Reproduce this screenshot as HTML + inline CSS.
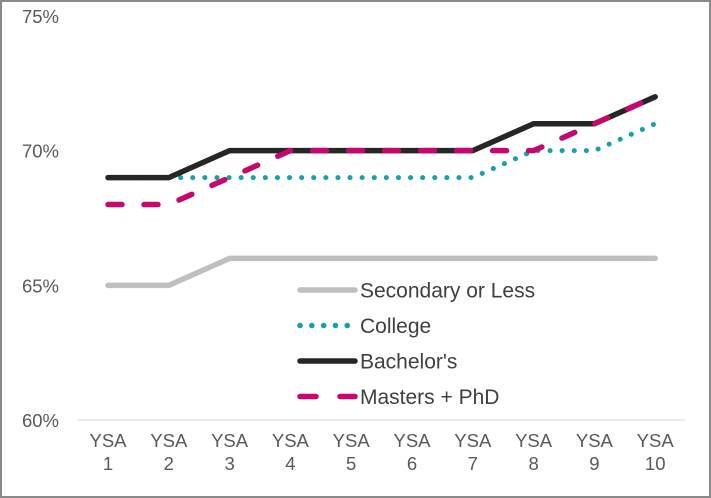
<!DOCTYPE html>
<html><head><meta charset="utf-8"><style>
body{margin:0;background:#fff;}
svg{display:block;font-family:"Liberation Sans",sans-serif;}
</style></head><body>
<svg id="c" width="711" height="498">
<rect x="1" y="1" width="709" height="496" fill="#fff" stroke="#8a8a8a" stroke-width="2"/>
</svg>
<script>
const categories=["YSA 1","YSA 2","YSA 3","YSA 4","YSA 5","YSA 6","YSA 7","YSA 8","YSA 9","YSA 10"];
const secondary=[65,65,66,66,66,66,66,66,66,66];
const college=[69,69,69,69,69,69,69,70,70,71];
const bachelors=[69,69,70,70,70,70,70,71,71,72];
const masters=[68,68,69,70,70,70,70,70,71,72];
const yTicks=[60,65,70,75];
const ns="http://www.w3.org/2000/svg";
const svg=document.getElementById('c');
const x0=77.6,x1=685.6,step=(x1-x0)/categories.length;
const xs=i=>x0+step*(i+0.5);
const ys=v=>420-(v-60)*(404/15);
function mk(t,a,p){const e=document.createElementNS(ns,t);for(const k in a)e.setAttribute(k,a[k]);(p||svg).appendChild(e);return e;}
yTicks.forEach(v=>{const t=mk('text',{x:59,y:ys(v)+7,'text-anchor':'end','font-size':18.5,fill:'#595959'});t.textContent=v+'%';

});
const ax=mk('line',{x1:x0,x2:x1,y1:420,y2:420,stroke:'#d9d9d9','stroke-width':1});


categories.forEach((c,i)=>{const p=c.split(' ');
const t=mk('text',{x:xs(i),y:447,'text-anchor':'middle','font-size':18.5,fill:'#595959'});


const a=mk('tspan',{x:xs(i),dy:0},t);a.textContent=p[0];
const b=mk('tspan',{x:xs(i),dy:23},t);b.textContent=p[1];});
const series=[
{name:'Secondary or Less',d:secondary,c:'#bfbfbf',dash:null,id:'line-secondary'},
{name:'College',d:college,c:'#17a2a8',dash:'0.1 12',id:'line-college'},
{name:"Bachelor's",d:bachelors,c:'#262626',dash:null,id:'line-bachelors'},
{name:'Masters + PhD',d:masters,c:'#c8076e',dash:'14 22',id:'line-masters'}];
series.forEach((s,k)=>{
const pts=s.d.map((v,i)=>xs(i)+','+ys(v)).join(' ');
const a={points:pts,fill:'none',stroke:s.c,'stroke-width':s.dash==='0.1 12'?5:5.5,'stroke-linecap':'round','stroke-linejoin':'round'};
if(s.dash)a['stroke-dasharray']=s.dash;
const l=mk('polyline',a);


const ly=290+k*35.5;
const la={x1:300,x2:355,y1:ly,y2:ly,stroke:s.c,'stroke-width':5.5,'stroke-linecap':'round'};
if(s.dash)la['stroke-dasharray']=s.dash==='0.1 12'?'0.1 11.7':'16 24';
const ll=mk('line',la);


const t=mk('text',{x:360,y:ly+7.5,'font-size':21,fill:'#404040'});t.textContent=s.name;


});
</script>
</body></html>
